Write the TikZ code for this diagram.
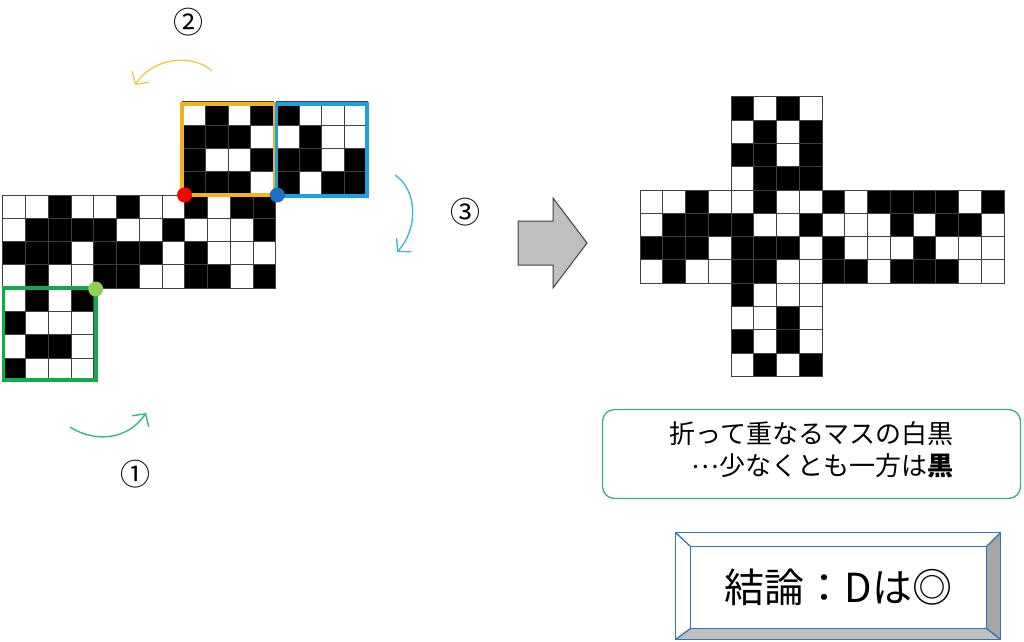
\documentclass[tikz,border=0pt]{standalone}
\usepackage{fontspec}
\setmainfont{Noto Sans CJK JP}
\usetikzlibrary{
  arrows.meta,
  positioning,  % Function "of" (e.g. [right=of x])
}
\def\mycw{22.75}  % cell width
\def\mych{23.3}   % cell height
\definecolor{foldorange}{RGB}{242,180,30}
\definecolor{foldyellow}{RGB}{245,200,75}
\definecolor{foldblue}{RGB}{30,160,220}
\definecolor{foldsky}{RGB}{70,180,225}
\definecolor{foldgreen}{RGB}{20,170,75}
\definecolor{foldteal}{RGB}{50,185,130}
\definecolor{pinblue}{RGB}{30,110,195}
\definecolor{pingreen}{RGB}{146,208,80}
\definecolor{rulegreen}{RGB}{60,175,110}
\definecolor{bevelblue}{RGB}{46,117,182}
\definecolor{bevelgray}{RGB}{166,166,166}
\definecolor{bevellight}{RGB}{191,191,191}
\newcommand{\cellgrid}[3]{%
  \foreach \cells [count=\ri from 0] in {#3}{
    \foreach \val [count=\ci from 0] in \cells
      \path[c\val] ({#1+\ci*\mycw},{#2+\ri*\mych}) rectangle ++(\mycw,\mych);
  }
}
\tikzset{
  >={Straight Barb[length=9pt,width=20pt]},
  c0/.style={
    draw=black!75,
    line width=0.9pt,
    fill=white
  },
  c1/.style={
    c0,
    fill=black
  },
  frame/.style={
    line width=3.8pt
  },
  fold/.style={
    ->,
    line width=1.4pt
  },
  pin/.style={
    circle,
    inner sep=0pt,
    minimum size=15pt
  },
  num/.style={
    font=\fontsize{30}{34}\selectfont
  },
  bigarrow/.style={
    draw=black!75,
    line width=1pt,
    fill=bevellight
  },
  rulebox/.style={
    draw=rulegreen,
    line width=1.3pt,
    rounded corners=12pt,
    minimum width=418pt,
    minimum height=89pt
  },
  ruletext/.style={
    align=right,
    inner sep=0pt,
    font=\fontsize{26}{32}\selectfont
  },
  bevel/.style={
    draw=bevelblue,
    line width=1.3pt
  }
}
\begin{document}
\begin{tikzpicture}[x=1pt,y=-1pt]
\useasboundingbox (0,0) rectangle (1024,641);
% unfolded net
\cellgrid{2.7}{195}{{0,0,1,0,0,1,0,0,1,0,1,1},{0,1,1,1,1,0,0,1,0,0,0,1},
  {1,1,1,0,1,1,1,0,1,0,0,0},{0,1,0,0,1,1,0,0,1,1,0,1}}
\cellgrid{182.5}{101.8}{{0,1,0,1},{1,1,1,0},{1,0,0,1},{1,1,1,0}}
\cellgrid{276.3}{101.8}{{1,0,0,0},{0,1,0,0},{1,1,0,1},{1,0,1,1}}
\cellgrid{2.7}{288.2}{{0,1,0,1},{1,0,0,0},{0,1,1,0},{1,0,0,0}}
\draw[frame,foldorange] (182,104) rectangle (274.5,195);
\draw[frame,foldblue] (276.5,104) rectangle (367,196);
\draw[frame,foldgreen] (3.5,288) rectangle (96,380);
\node[pin,fill=red]      (pinr) at (184.5,195) {};
\node[pin,fill=pinblue]  (pinb) at (277.3,195) {};
\node[pin,fill=pingreen] (ping) at (95.7,289) {};
% fold arrows
\coordinate (f1s) at (70,427);  \coordinate (f1e) at (146,413);
\coordinate (f2s) at (212,71);  \coordinate (f2e) at (135,85);
\coordinate (f3s) at (395,175); \coordinate (f3e) at (397,252);
\draw[fold,foldteal]   (f1s) .. controls (95,443) and (128,440) .. (f1e);
\draw[fold,foldyellow] (f2s) .. controls (195,55) and (155,55) .. (f2e);
\draw[fold,foldsky]    (f3s) .. controls (418,190) and (418,230) .. (f3e);
\node[num] (n1) at (135,474) {①};
\node[num] (n2) at (188,22)  {②};
\node[num] (n3) at (465,212) {③};
\draw[bigarrow] (518,221) -- (553,221) -- (553,198) -- (587,243)
  -- (553,288) -- (553,265) -- (518,265) -- cycle;
% folded result
\cellgrid{640}{190}{{0,0,1,0,0,1,0,0,1,0,1,1,1,1,0,1},{0,1,1,1,1,0,0,1,0,0,0,1,0,1,1,0},
  {1,1,1,0,1,1,1,0,1,0,0,0,1,0,0,0},{0,1,0,0,1,1,0,0,1,1,0,1,1,1,0,0}}
\cellgrid{731}{96.8}{{1,0,1,0},{0,1,0,1},{1,1,0,1},{0,1,1,1}}
\cellgrid{731}{283.2}{{1,0,0,0},{0,0,1,0},{1,0,1,0},{0,1,0,1}}
% rule and conclusion
\node[rulebox] (rulebox) at (811.5,454) {};
\node[ruletext] (rule) at ([yshift=4pt]rulebox.center)
  {折って重なるマスの白黒\\\raisebox{0.28em}{⋯}少なくとも一方は\textbf{黒}};
\node[minimum width=324pt,minimum height=106pt] (conclout) at (838,586) {};
\node[minimum width=295pt,minimum height=81pt,font=\fontsize{40}{48}\selectfont]
  (concl) at (838.5,587.5) {結論：Dは◎};
\fill[bevelgray] (concl.north east) -- (conclout.north east)
  -- (conclout.south east) -- (concl.south east) -- cycle;
\fill[bevellight] (concl.south west) -- (concl.south east)
  -- (conclout.south east) -- (conclout.south west) -- cycle;
\draw[bevel] (conclout.north west) rectangle (conclout.south east);
\draw[bevel] (concl.north west) rectangle (concl.south east);
\draw[bevel] (conclout.north west) -- (concl.north west)
  (conclout.north east) -- (concl.north east)
  (conclout.south west) -- (concl.south west)
  (conclout.south east) -- (concl.south east);
\end{tikzpicture}
\end{document}
